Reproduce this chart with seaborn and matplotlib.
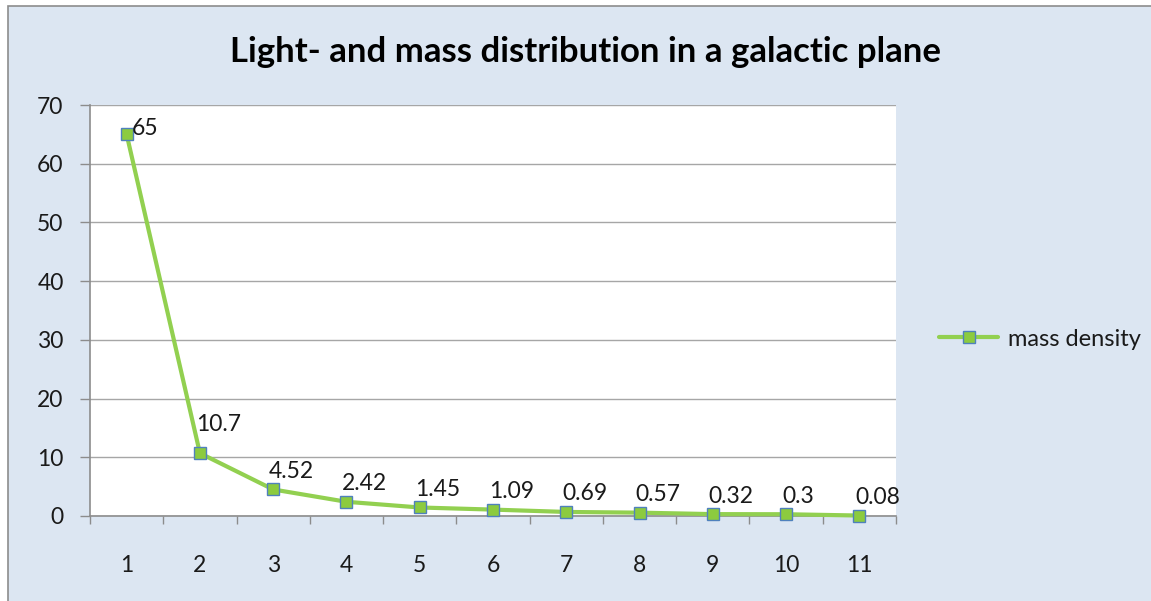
import numpy as np
import pandas as pd
import matplotlib
matplotlib.use("Agg")
import matplotlib.pyplot as plt
import seaborn as sns
from matplotlib.patches import Rectangle
from matplotlib.lines import Line2D
from matplotlib.ticker import FixedLocator

# ---- data ----
radius = [1, 2, 3, 4, 5, 6, 7, 8, 9, 10, 11]
mass_density = [65, 10.7, 4.52, 2.42, 1.45, 1.09, 0.69, 0.57, 0.32, 0.3, 0.08]
label_text = ["65", "10.7", "4.52", "2.42", "1.45", "1.09", "0.69", "0.57", "0.32", "0.3", "0.08"]
y_ticks = [0, 10, 20, 30, 40, 50, 60, 70]
title = "Light- and mass distribution in a galactic plane"
series_name = "mass density"

sns.set_style("white")
plt.rcParams["font.family"] = ["Lato", "DejaVu Sans"]

LINE_GREEN = "#92D050"
MARK_FILL = "#8CCB3F"
MARK_EDGE = "#4F81BD"
BG = "#DCE6F2"
GRID = "#A6A6A6"
TEXT = "#1A1A1A"
FS = 16.5

fig = plt.figure(figsize=(11.51, 6.01), dpi=100)
fig.patch.set_facecolor("white")
# chart area background with a thin grey frame
frame = Rectangle((8 / 1151, -0.01), 1.0, (601 - 6) / 601 + 0.01,
                  transform=fig.transFigure, facecolor=BG,
                  edgecolor="#8C8C8C", linewidth=1.2, zorder=-10)
fig.add_artist(frame)

ax = fig.add_axes([90 / 1151, 85 / 601, 806 / 1151, 411 / 601])
ax.set_facecolor("white")
ax.set_zorder(1)

df = pd.DataFrame({"radius": radius, "density": mass_density})

sns.lineplot(data=df, x="radius", y="density", color=LINE_GREEN, linewidth=3.0,
             marker="s", markersize=8.5, markerfacecolor=MARK_FILL,
             markeredgecolor=MARK_EDGE, markeredgewidth=1.0,
             solid_joinstyle="round", solid_capstyle="round",
             ax=ax, zorder=4, legend=False, clip_on=False)

# value labels
for i, (xi, yi, t) in enumerate(zip(radius, mass_density, label_text)):
    if i == 0:
        off = (4, 4)
    elif i == 1:
        off = (-3, 21)
    else:
        off = (-3, 13)
    ax.annotate(t, (xi, yi), xytext=off, textcoords="offset points",
                ha="left", va="center", fontsize=FS, color=TEXT, zorder=5)

ax.set_xlim(0.5, 11.5)
ax.set_ylim(0, 70)
ax.set_yticks(y_ticks)
ax.set_xticks(radius)
ax.set_xticklabels([str(r) for r in radius])
ax.xaxis.set_minor_locator(FixedLocator(np.arange(0.5, 12, 1.0)))
ax.grid(axis="y", color=GRID, linewidth=1.0)
ax.set_axisbelow(True)
ax.set_xlabel("")
ax.set_ylabel("")

for s in ["top", "right"]:
    ax.spines[s].set_visible(False)
for s in ["left", "bottom"]:
    ax.spines[s].set_color("#8C8C8C")
    ax.spines[s].set_linewidth(1.2)

ax.tick_params(axis="y", which="major", direction="out", length=7, width=1.0,
               color="#8C8C8C", pad=12, labelsize=FS, labelcolor=TEXT, left=True)
ax.tick_params(axis="x", which="major", length=0, pad=28, labelsize=FS,
               labelcolor=TEXT, bottom=True)
ax.tick_params(axis="x", which="minor", direction="out", length=6, width=1.0,
               color="#8C8C8C", bottom=True)

fig.text(585 / 1151, 1 - 52 / 601, title, ha="center", va="center",
         fontsize=25, fontweight="bold", color="#000000")

handle = Line2D([], [], color=LINE_GREEN, linewidth=3.0, marker="s", markersize=8,
                markerfacecolor=MARK_FILL, markeredgecolor=MARK_EDGE, markeredgewidth=1.0)
fig.legend([handle], [series_name], loc="center left",
           bbox_to_anchor=(918 / 1151, 1 - 339 / 601), frameon=False,
           fontsize=17, handlelength=2.5, handletextpad=0.4, labelcolor=TEXT)

fig.savefig("out.png", dpi=100, facecolor=fig.get_facecolor())
